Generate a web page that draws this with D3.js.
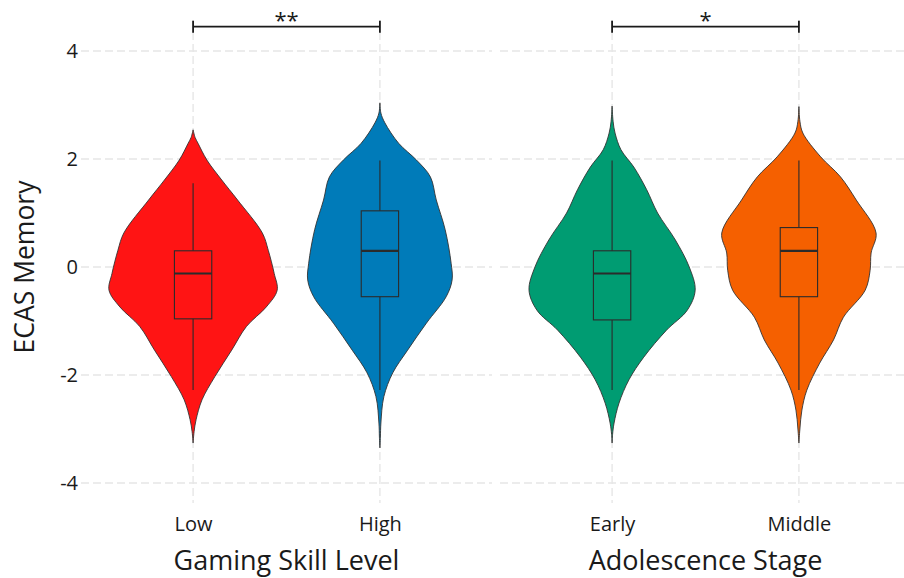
<!DOCTYPE html>
<html><head><meta charset="utf-8">
<script src="https://cdn.jsdelivr.net/npm/d3@7"></script>
<style>body{margin:0;background:#fff}svg{display:block}text{font-family:"Open Sans",sans-serif;fill:#1a1a1a}</style>
</head><body>
<svg id="chart" width="904" height="578"></svg>
<script>
// ---- data ----
const panelTitles = ["Gaming Skill Level", "Adolescence Stage"];
const panelCategories = [["Low", "High"], ["Early", "Middle"]];
const groupColors = ["#FF1414", "#007BB9", "#009C72", "#F56000"];
const yTicks = [-4, -2, 0, 2, 4];
const sigLabels = ["**", "*"];

// violin density outlines (value, relative density)
const lowVals  = [2.54, 2.40, 2.29, 1.98, 1.61, 1.24, 0.63, 0.31, -0.12, -0.43, -0.74, -1.10, -1.54, -2.03, -2.46, -2.83, -3.05, -3.26];
const lowDens  = [0.00, 0.02, 0.05, 0.14, 0.29, 0.45, 0.70, 0.76, 0.82, 0.85, 0.74, 0.54, 0.39, 0.22, 0.09, 0.03, 0.01, 0.00];
const highVals = [3.04, 2.85, 2.67, 2.29, 1.98, 1.67, 1.24, 0.69, 0.07, -0.24, -0.55, -1.04, -1.54, -1.96, -2.40, -2.89, -3.15, -3.35];
const highDens = [0.00, 0.01, 0.05, 0.19, 0.37, 0.51, 0.57, 0.66, 0.72, 0.73, 0.67, 0.47, 0.28, 0.13, 0.04, 0.01, 0.005, 0.00];
const earlyVals = [2.98, 2.70, 2.48, 2.17, 1.85, 1.43, 1.00, 0.50, 0.00, -0.43, -0.80, -1.17, -1.67, -2.09, -2.52, -2.89, -3.10, -3.26];
const earlyDens = [0.00, 0.01, 0.03, 0.09, 0.22, 0.35, 0.46, 0.64, 0.78, 0.84, 0.76, 0.55, 0.32, 0.17, 0.07, 0.02, 0.005, 0.00];
const middleVals = [2.97, 2.70, 2.48, 2.04, 1.67, 1.24, 0.63, 0.26, -0.06, -0.43, -0.93, -1.35, -1.78, -2.28, -2.65, -3.00, -3.26];
const middleDens = [0.00, 0.01, 0.04, 0.22, 0.42, 0.58, 0.78, 0.73, 0.72, 0.67, 0.45, 0.35, 0.21, 0.08, 0.03, 0.01, 0.00];

// box statistics per group: [lower whisker, Q1, median, Q3, upper whisker]
const lowBox    = [-2.28, -0.96, -0.12, 0.30, 1.55];
const highBox   = [-2.28, -0.55, 0.30, 1.04, 1.97];
const earlyBox  = [-2.28, -0.98, -0.12, 0.30, 1.97];
const middleBox = [-2.28, -0.55, 0.30, 0.73, 1.97];

const sigY = 4.45;

// ---- layout ----
const groups = [
  {vals: lowVals, dens: lowDens, box: lowBox},
  {vals: highVals, dens: highDens, box: highBox},
  {vals: earlyVals, dens: earlyDens, box: earlyBox},
  {vals: middleVals, dens: middleDens, box: middleBox}
];
const svg = d3.select("#chart");
const panelTop = 20, panelBottom = 503;
const panelRanges = [[81, 492], [500, 911]];
const y = d3.scaleLinear().domain([-4, 4]).range([483, 51]);

// horizontal grid
panelRanges.forEach(r => {
  svg.append("g").selectAll("line").data(yTicks).join("line")
    .attr("x1", r[0]).attr("x2", r[1])
    .attr("y1", d => y(d)).attr("y2", d => y(d))
    .attr("stroke", "#e6e6e6").attr("stroke-width", 1.4).attr("stroke-dasharray", "8,4");
});

// y axis tick labels
const yAxis = d3.axisLeft(y).tickValues(yTicks).tickSize(0).tickPadding(2).tickFormat(d => String(d));
const ya = svg.append("g").attr("transform", "translate(80,0)").call(yAxis);
ya.select(".domain").remove();
ya.selectAll("text").attr("font-size", 20).attr("font-family", "Open Sans").attr("fill", "#1a1a1a");

svg.append("text").attr("transform", "translate(34," + y(0) + ") rotate(-90)")
  .attr("text-anchor", "middle").attr("font-size", 26.5).text("ECAS Memory");

const allMax = d3.max(groups, g => d3.max(g.dens));

panelCategories.forEach((cats, pi) => {
  const x = d3.scalePoint().domain(cats).range(panelRanges[pi]).padding(0.6);
  const step = x.step();
  const w = d3.scaleLinear().domain([0, allMax]).range([0, step * 0.45]);

  // vertical grid
  svg.append("g").selectAll("line").data(cats).join("line")
    .attr("x1", d => x(d)).attr("x2", d => x(d))
    .attr("y1", panelTop).attr("y2", panelBottom)
    .attr("stroke", "#e6e6e6").attr("stroke-width", 1.4).attr("stroke-dasharray", "8,4");

  cats.forEach((c, ci) => {
    const gi = pi * 2 + ci;
    const g = groups[gi];
    const cx = x(c);
    const pts = g.vals.map((v, i) => [v, g.dens[i]]);
    const area = d3.area()
      .y(d => y(d[0]))
      .x0(d => cx - w(d[1]))
      .x1(d => cx + w(d[1]))
      .curve(d3.curveCatmullRom.alpha(0.5));
    svg.append("path").datum(pts).attr("d", area)
      .attr("fill", groupColors[gi]).attr("stroke", "#333").attr("stroke-width", 0.9);

    const b = g.box;
    const bw = step * 0.2;
    const bg = svg.append("g").attr("stroke", "#2b2b2b").attr("fill", "none");
    bg.append("line").attr("x1", cx).attr("x2", cx).attr("y1", y(b[0])).attr("y2", y(b[1])).attr("stroke-width", 1.1);
    bg.append("line").attr("x1", cx).attr("x2", cx).attr("y1", y(b[3])).attr("y2", y(b[4])).attr("stroke-width", 1.1);
    bg.append("rect").attr("x", cx - bw / 2).attr("width", bw)
      .attr("y", y(b[3])).attr("height", y(b[1]) - y(b[3])).attr("stroke-width", 1.1);
    bg.append("line").attr("x1", cx - bw / 2).attr("x2", cx + bw / 2)
      .attr("y1", y(b[2])).attr("y2", y(b[2])).attr("stroke-width", 2.2);
  });

  // x axis labels
  const xa = svg.append("g").attr("transform", "translate(0,513)")
    .call(d3.axisBottom(x).tickSize(0).tickPadding(4));
  xa.select(".domain").remove();
  xa.selectAll("text").attr("font-size", 20).attr("font-family", "Open Sans").attr("fill", "#1a1a1a");

  svg.append("text").attr("x", (panelRanges[pi][0] + panelRanges[pi][1]) / 2).attr("y", 570)
    .attr("text-anchor", "middle").attr("font-size", 27).text(panelTitles[pi]);

  // significance bracket
  const x1 = x(cats[0]), x2 = x(cats[1]), by = y(sigY);
  const br = svg.append("g").attr("stroke", "#1a1a1a").attr("stroke-width", 1.8);
  br.append("line").attr("x1", x1).attr("x2", x2).attr("y1", by).attr("y2", by);
  br.append("line").attr("x1", x1).attr("x2", x1).attr("y1", by - 6).attr("y2", by + 6);
  br.append("line").attr("x1", x2).attr("x2", x2).attr("y1", by - 6).attr("y2", by + 6);
  svg.append("text").attr("x", (x1 + x2) / 2).attr("y", by + 1)
    .attr("text-anchor", "middle").attr("font-size", 22).text(sigLabels[pi]);
});
</script>
</body></html>
